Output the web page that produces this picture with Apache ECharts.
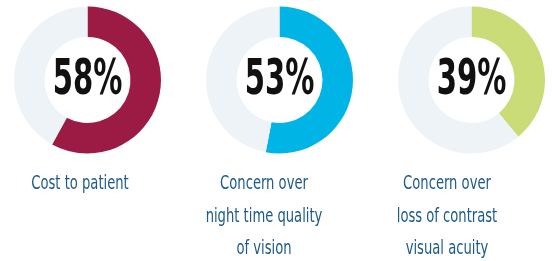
<!DOCTYPE html>
<html>
<head>
<meta charset="utf-8">
<script src="https://cdn.jsdelivr.net/npm/echarts@6/dist/echarts.min.js"></script>
<style>
  html, body { margin: 0; padding: 0; background: #fff; }
  #chart { width: 552px; height: 261px; }
</style>
</head>
<body>
<div id="chart"></div>
<script>
// values
const categories = ["Cost to patient", "Concern over\nnight time quality\nof vision", "Concern over\nloss of contrast\nvisual acuity"];
const percents = [58, 53, 39];
const colors = ["#9b1b45", "#00b4e5", "#c9dc77"];

const trackColor = "#eef3f8";
const centersX = [87.5, 279.5, 471.5];
const labelX = [80, 264, 447];
const centerY = 80;

const chart = echarts.init(document.getElementById("chart"));

const series = percents.map((p, i) => ({
  type: "pie",
  center: [centersX[i], centerY],
  radius: [43, 73.5],
  startAngle: 90,
  clockwise: true,
  silent: true,
  animation: false,
  label: { show: false },
  labelLine: { show: false },
  data: [
    { value: p, itemStyle: { color: colors[i] } },
    { value: 100 - p, itemStyle: { color: trackColor } },
  ],
}));

const graphic = [];
percents.forEach((p, i) => {
  graphic.push({
    type: "text",
    x: centersX[i],
    y: centerY + 1,
    scaleX: 0.66,
    style: {
      text: p + "%",
      fontSize: 49,
      fontWeight: "bold",
      fontFamily: "'DejaVu Sans Condensed', sans-serif",
      fill: "#111",
      align: "center",
      verticalAlign: "middle",
    },
  });
  graphic.push({
    type: "text",
    x: labelX[i],
    y: 168,
    scaleX: 0.73,
    style: {
      text: categories[i],
      fontSize: 20,
      lineHeight: 32.5,
      fontFamily: "'DejaVu Sans Condensed', sans-serif",
      fill: "#1c5a8b",
      align: "center",
      verticalAlign: "top",
    },
  });
});

chart.setOption({
  animation: false,
  series: series,
  graphic: graphic,
});
</script>
</body>
</html>
